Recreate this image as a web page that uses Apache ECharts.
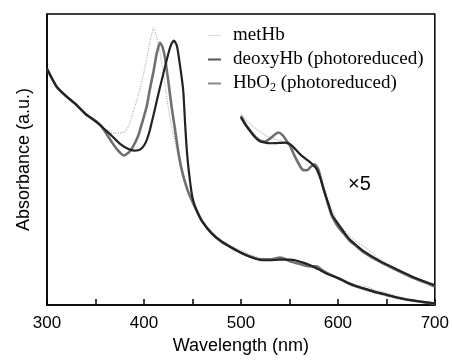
<!DOCTYPE html>
<html>
<head>
<meta charset="utf-8">
<script src="https://cdn.jsdelivr.net/npm/echarts@6/dist/echarts.min.js"></script>
<style>html,body{margin:0;padding:0;background:#fff}#c{width:452px;height:360px}</style>
</head>
<body>
<div id="c"></div>
<script>
// ---- data (wavelength nm, absorbance a.u. on 0-100 scale) ----
const xTicks = [300, 400, 500, 600, 700];

const metHbX = [300,310,320,330,340,350,360,370,380,385,390,395,400,405,410,415,420,425,430,440,450,460,470,480,490,500,510,520,530,540,550,560,570,580,590,600,610,620,630,640,650,660,670,680,690,700];
const metHbY = [81.2,75,71.7,68.9,65.8,63,60.5,59,59.5,62,67.5,73,80,88.5,95.2,89.5,80,68,59,45,35,29,25,22.3,20.3,18.6,17.3,16.2,16.0,15.8,15.3,14.4,13.5,12.6,11,9.5,8,6.8,6.3,5,4.2,3.2,2.4,1.8,1.2,0.8];

const deoxyX = [300,310,320,330,340,350,356,360,367,375,384,390,394,398,402,406,410,415,420,425,428,431,434,437,440.5,442.5,444.5,447,450,455,460,470,480,490,500,510,520,530,540,550,556,565,572,580,590,600,610,620,630,640,650,660,670,680,690,700];
const deoxyY = [81.2,75,71.7,68.9,65.6,63.2,61.5,60.2,58.1,55.5,53.6,53.1,53.2,54,56,60,65.5,72.7,79.5,86.2,89.5,90.9,89,82.8,73.8,62,52,44,37,32,28.8,24.6,21.8,19.8,18,16.5,15.5,15.4,15.6,15.6,15.4,14.5,13.6,12.3,10.6,9.3,7.7,6.4,5.4,4.4,3.6,2.7,2.0,1.5,1.0,0.6];

const hbo2X = [300,310,320,330,340,350,356,360,367,373,379,384,388,394,398,403,406,410,413,416.5,419,421.6,425,428.5,432,436,440,445,450,455,460,470,480,490,500,510,520,530,535,540,545,550,560,568,573,578,583,590,600,610,620,630,640,650,660,670,680,690,700];
const hbo2Y = [81.2,75,71.7,68.9,65.6,63.2,61.5,59.5,55.9,53.2,51.4,52.3,54,58.1,62.5,68.5,74,80.5,86.2,90.1,88.8,85.1,77.2,68.2,60.4,51.5,45,39.5,35.5,32,28.8,24.6,21.8,19.8,18,16.6,15.7,15.7,16.0,16.3,15.9,15.1,14.2,13.4,13.3,13.3,12.2,10.8,9.3,7.6,6.3,5.3,4.3,3.5,2.6,1.9,1.4,0.9,0.5];

// x5 magnified visible region
const metHb5X = [500,510,520,530,540,550,560,570,580,590,600,610,620,630,640,660,680,700];
const metHb5Y = [65.5,62,59.5,57.5,56.5,55,52,49.5,45.5,36,28.5,24.5,21.5,19.5,16.5,12.5,9.5,6.8];

const deoxy5X = [500,505,510,515,520,525,530,540,546,551,556,562,569,574,578,582,586,590,594,600,606,612,620,626,643,660,678,695,700];
const deoxy5Y = [64.5,61.8,59.5,57.5,56.2,55.8,55.6,55.7,55.8,55.2,53.6,51.5,49.7,48.3,46.8,43.5,39,35,31,28,25.2,22.6,20.3,18.6,15.2,12.4,9.6,7.4,6.8];

const hbo25X = [500,505,510,515,520,525,530,535,538.5,543,547,551,555,560,564,568,572,576,580,584,587,590,594,600,606,612,620,626,643,660,678,695,700];
const hbo25Y = [65,62,59.8,57.8,56.5,56.2,57.2,58.6,59.3,58.4,56.5,54.5,51.5,48.3,46.4,46.3,47.5,48.4,46.5,41.5,38,34.5,30.5,27,24.6,22.2,20,18.3,14.9,12.1,9.3,7.1,6.4];

const names = ['metHb', 'deoxyHb (photoreduced)', 'HbO2 (photoreduced)'];

function pairs(xs, ys) { return xs.map((x, i) => [x, ys[i]]); }

const styleMet = { color: '#b8b8b8', width: 1.2, type: 'dotted' };
const styleDeoxy = { color: '#222', width: 2.2 };
const styleHbo2 = { color: '#707070', width: 2.6 };

function line(name, data, ls) {
  return { name: name, type: 'line', data: data, showSymbol: false, symbol: 'none',
    smooth: 0.2, lineStyle: ls, itemStyle: { color: ls.color }, z: 2, silent: true, animation: false };
}

const chart = echarts.init(document.getElementById('c'), null, { renderer: 'canvas' });
chart.setOption({
  animation: false,
  backgroundColor: '#fff',
  grid: { left: 47, right: 17, top: 14, bottom: 49, show: true, borderColor: '#000', borderWidth: 1.5, backgroundColor: 'transparent' },
  legend: {
    orient: 'vertical', left: 203, top: 21, itemWidth: 13, itemHeight: 14, itemGap: 5,
    data: [
      { name: names[0], icon: 'path://M0,6.5L13,6.5L13,7.5L0,7.5Z', itemStyle: { color: '#d8d8d8' } },
      { name: names[1], icon: 'path://M0,6L13,6L13,8L0,8Z', itemStyle: { color: '#555' } },
      { name: names[2], icon: 'path://M0,6L13,6L13,8L0,8Z', itemStyle: { color: '#888' } }
    ],
    formatter: function (n) {
      if (n === 'HbO2 (photoreduced)') return '{a|HbO}{s|2}{a| (photoreduced)}';
      return '{a|' + n + '}';
    },
    textStyle: {
      color: '#000', fontFamily: 'Liberation Serif', fontSize: 19, padding: [0, 0, 0, 7],
      rich: {
        a: { fontFamily: 'Liberation Serif', fontSize: 19, color: '#000' },
        s: { fontFamily: 'Liberation Serif', fontSize: 12, color: '#000', verticalAlign: 'bottom', padding: [8, 0, 0, 0] }
      }
    }
  },
  xAxis: {
    type: 'value', min: 300, max: 700, interval: 50,
    name: 'Wavelength (nm)', nameLocation: 'middle', nameGap: 30,
    nameTextStyle: { fontFamily: 'Liberation Sans', fontSize: 18, color: '#000' },
    axisLine: { show: true, lineStyle: { color: '#000', width: 1.5 } },
    axisTick: { show: true, inside: true, length: 6, lineStyle: { color: '#000', width: 1.5 } },
    axisLabel: { margin: 10, fontFamily: 'Liberation Sans', fontSize: 17, color: '#000',
      formatter: function (v) { return xTicks.indexOf(v) >= 0 ? String(v) : ''; } },
    splitLine: { show: false }
  },
  yAxis: {
    type: 'value', min: 0, max: 100,
    name: 'Absorbance (a.u.)', nameLocation: 'middle', nameGap: 14,
    nameTextStyle: { fontFamily: 'Liberation Sans', fontSize: 18, color: '#000' },
    axisLine: { show: true, lineStyle: { color: '#000', width: 1.5 } },
    axisTick: { show: false }, axisLabel: { show: false }, splitLine: { show: false }
  },
  graphic: [{
    type: 'text', left: 348, top: 174,
    style: { text: '×5', fontFamily: 'Liberation Sans', fontSize: 20, fill: '#000' }
  }],
  series: [
    line(names[0], pairs(metHbX, metHbY), styleMet),
    line(names[0], pairs(metHb5X, metHb5Y), styleMet),
    line(names[2], pairs(hbo2X, hbo2Y), styleHbo2),
    line(names[2], pairs(hbo25X, hbo25Y), styleHbo2),
    line(names[1], pairs(deoxyX, deoxyY), styleDeoxy),
    line(names[1], pairs(deoxy5X, deoxy5Y), styleDeoxy)
  ]
});
</script>
</body>
</html>
